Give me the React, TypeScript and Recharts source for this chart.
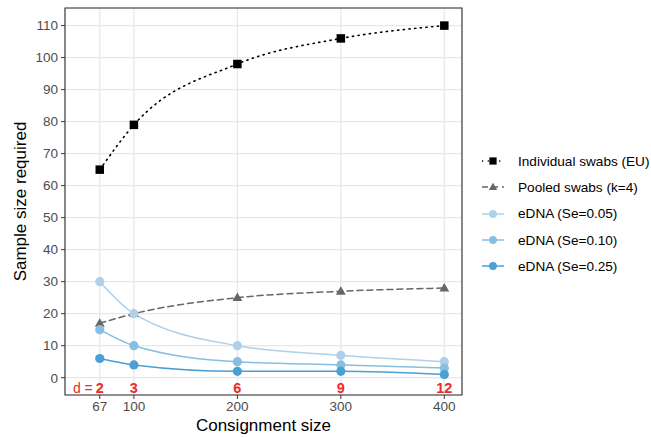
import React from 'react';
import {
  ComposedChart,
  Line,
  Scatter,
  XAxis,
  YAxis,
  CartesianGrid,
  ReferenceArea,
} from 'recharts';

const consignment = [67, 100, 200, 300, 400];
const dValues = [2, 3, 6, 9, 12];
const individual = [65, 79, 98, 106, 110];
const pooled = [17, 20, 25, 27, 28];
const edna005 = [30, 20, 10, 7, 5];
const edna010 = [15, 10, 5, 4, 3];
const edna025 = [6, 4, 2, 2, 1];
const yTicks = [0, 10, 20, 30, 40, 50, 60, 70, 80, 90, 100, 110];

const X_DOMAIN: [number, number] = [33.4, 417.1];
const Y_DOMAIN: [number, number] = [-5.4, 115.5];
const D_LABEL_Y = -3.2;

const FONT = '"Liberation Sans", Arial, sans-serif';
const RED = '#ee2a2a';

const rows = consignment.map((x, i) => ({
  x,
  individual: individual[i],
  pooled: pooled[i],
  edna005: edna005[i],
  edna010: edna010[i],
  edna025: edna025[i],
}));

const dRows = consignment.map((x, i) => ({ x, y: D_LABEL_Y, d: dValues[i] }));

const SERIES = [
  { key: 'individual', label: 'Individual swabs (EU)', color: '#000000', dash: '1.2 4.5', shape: 'square' },
  { key: 'pooled', label: 'Pooled swabs (k=4)', color: '#666666', dash: '6 4', shape: 'triangle' },
  { key: 'edna005', label: 'eDNA (Se=0.05)', color: '#afd0e9', dash: undefined, shape: 'circle' },
  { key: 'edna010', label: 'eDNA (Se=0.10)', color: '#86bfe0', dash: undefined, shape: 'circle' },
  { key: 'edna025', label: 'eDNA (Se=0.25)', color: '#4a9fd5', dash: undefined, shape: 'circle' },
];

function Marker({ cx, cy, shape, color, size = 1 }: any) {
  if (cx == null || cy == null) return null;
  if (shape === 'square') {
    const s = 8.5 * size;
    return <rect x={cx - s / 2} y={cy - s / 2} width={s} height={s} fill={color} />;
  }
  if (shape === 'triangle') {
    const h = 8.5 * size;
    return (
      <polygon
        points={`${cx},${cy - h * 0.6} ${cx + h * 0.58},${cy + h * 0.4} ${cx - h * 0.58},${cy + h * 0.4}`}
        fill={color}
      />
    );
  }
  return <circle cx={cx} cy={cy} r={4.6 * size} fill={color} />;
}

const DLabel = (props: any) => {
  const { cx, cy, payload, index } = props;
  return (
    <g>
      {index === 0 && (
        <text x={cx - 7} y={cy} textAnchor="end" dominantBaseline="central" fill={RED} fontSize={14} fontFamily={FONT}>
          d =
        </text>
      )}
      <text x={cx} y={cy} textAnchor="middle" dominantBaseline="central" fill={RED} fontSize={14.5} fontWeight="bold" fontFamily={FONT}>
        {payload.d}
      </text>
    </g>
  );
};

function LegendKey({ s }: { s: (typeof SERIES)[number] }) {
  return (
    <svg width={24} height={14} style={{ display: 'block' }}>
      <line x1={1} x2={23} y1={7} y2={7} stroke={s.color} strokeWidth={1.5} strokeDasharray={s.dash} />
      <Marker cx={12} cy={7} shape={s.shape} color={s.color} size={0.85} />
    </svg>
  );
}

export default function App() {
  return (
    <div style={{ position: 'absolute', left: 0, top: 0, width: 651, height: 437, background: '#fff', fontFamily: FONT, overflow: 'hidden' }}>
      <ComposedChart width={651} height={437} data={rows} margin={{ top: 8, right: 189, bottom: 0, left: 0 }}>
        <CartesianGrid stroke="#e8e8e8" strokeWidth={1.3} />
        <XAxis
          dataKey="x"
          type="number"
          domain={X_DOMAIN}
          allowDataOverflow
          ticks={consignment}
          height={42}
          axisLine={false}
          tickSize={4}
          tickMargin={2}
          tickLine={{ stroke: '#333333' }}
          tick={{ fontSize: 13.5, fill: '#4d4d4d', fontFamily: FONT }}
          label={{ value: 'Consignment size', position: 'insideBottom', offset: 6, fontSize: 17, fill: '#000', fontFamily: FONT }}
        />
        <YAxis
          type="number"
          domain={Y_DOMAIN}
          allowDataOverflow
          ticks={yTicks}
          width={65}
          axisLine={false}
          tickSize={4}
          tickMargin={3}
          tickLine={{ stroke: '#333333' }}
          tick={{ fontSize: 13.5, fill: '#4d4d4d', fontFamily: FONT }}
          label={{ value: 'Sample size required', angle: -90, position: 'insideLeft', offset: 20, fontSize: 17, fill: '#000', fontFamily: FONT, style: { textAnchor: 'middle' } }}
        />
        {SERIES.map((s) => (
          <Line
            key={s.key}
            dataKey={s.key}
            type="monotone"
            stroke={s.color}
            strokeWidth={s.key === 'individual' ? 1.6 : 1.5}
            strokeLinecap="round"
            strokeDasharray={s.dash}
            dot={(p: any) => <Marker key={`${s.key}-${p.index}`} cx={p.cx} cy={p.cy} shape={s.shape} color={s.color} />}
            activeDot={false}
            isAnimationActive={false}
          />
        ))}
        <Scatter data={dRows} dataKey="y" shape={DLabel} isAnimationActive={false} />
        <ReferenceArea
          x1={X_DOMAIN[0]}
          x2={X_DOMAIN[1]}
          y1={Y_DOMAIN[0]}
          y2={Y_DOMAIN[1]}
          fill="none"
          fillOpacity={0}
          stroke="#333333"
          strokeWidth={1.1}
        />
      </ComposedChart>
      <div style={{ position: 'absolute', left: 481, top: 148 }}>
        {SERIES.map((s) => (
          <div key={s.key} style={{ display: 'flex', alignItems: 'center', height: 26.3 }}>
            <LegendKey s={s} />
            <span style={{ marginLeft: 13, fontSize: 13.6, color: '#000', whiteSpace: 'nowrap' }}>{s.label}</span>
          </div>
        ))}
      </div>
    </div>
  );
}
